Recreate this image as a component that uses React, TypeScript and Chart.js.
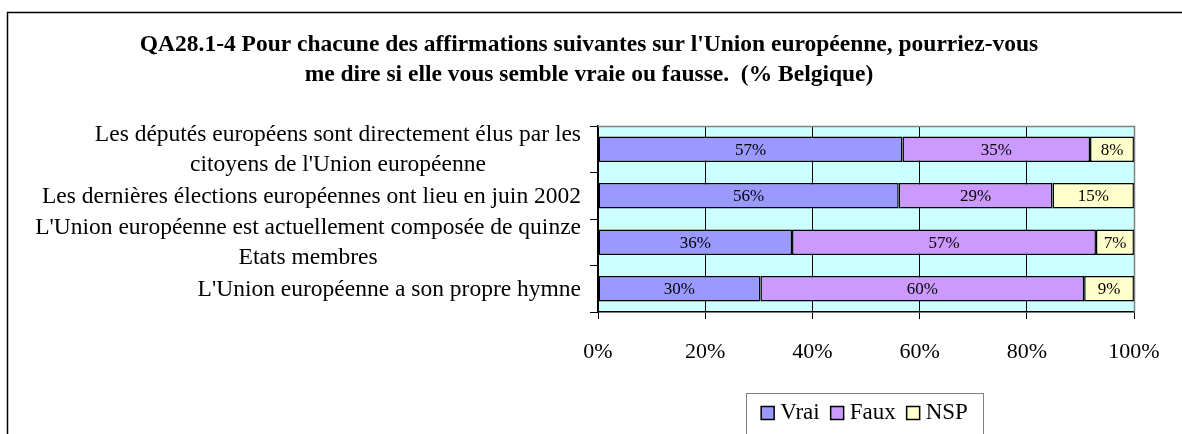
import React, { useEffect, useRef } from "react";
import { Chart, registerables } from "chart.js";

Chart.register(...registerables);

const titleLines = [
  "QA28.1-4 Pour chacune des affirmations suivantes sur l'Union européenne, pourriez-vous",
  "me dire si elle vous semble vraie ou fausse.  (% Belgique)",
];
const categories: string[][] = [
  ["Les députés européens sont directement élus par les", "citoyens de l'Union européenne"],
  ["Les dernières élections européennes ont lieu en juin 2002"],
  ["L'Union européenne est actuellement composée de quinze", "Etats membres"],
  ["L'Union européenne a son propre hymne"],
];
const vrai = [56.8, 56.1, 36.2, 30.3];
const faux = [35.0, 28.7, 56.7, 60.4];
const nsp = [8.2, 15.2, 7.1, 9.3];
const seriesNames = ["Vrai", "Faux", "NSP"];
const seriesColors = ["#9999FF", "#CC99FF", "#FFFFCC"];
const xTicks = [0, 20, 40, 60, 80, 100];

const SERIF = "'Liberation Serif', 'Times New Roman', serif";

const customPlugin = {
  id: "custom",
  beforeDraw(chart: any) {
    const { ctx, chartArea } = chart;
    ctx.save();
    ctx.fillStyle = "#FFFFFF";
    ctx.fillRect(0, 0, chart.width, chart.height);
    ctx.strokeStyle = "#000000";
    ctx.lineWidth = 1.5;
    ctx.strokeRect(7.5, 12.5, 1200, 440);
    ctx.fillStyle = "#CCFFFF";
    ctx.fillRect(chartArea.left, chartArea.top, chartArea.right - chartArea.left, chartArea.bottom - chartArea.top);
    ctx.fillStyle = "#000";
    ctx.font = `bold 23.5px ${SERIF}`;
    ctx.textAlign = "center";
    ctx.textBaseline = "middle";
    titleLines.forEach((t, i) => ctx.fillText(t, 589, 45 + i * 30));
    ctx.restore();
  },
  afterDatasetsDraw(chart: any) {
    const { ctx, chartArea } = chart;
    ctx.save();
    ctx.strokeStyle = "#808080";
    ctx.lineWidth = 1.5;
    ctx.beginPath();
    ctx.moveTo(chartArea.left, chartArea.top + 0.5);
    ctx.lineTo(chartArea.right + 0.5, chartArea.top + 0.5);
    ctx.lineTo(chartArea.right + 0.5, chartArea.bottom);
    ctx.stroke();
    ctx.fillStyle = "#000";
    ctx.font = `17px ${SERIF}`;
    ctx.textAlign = "center";
    ctx.textBaseline = "middle";
    chart.data.datasets.forEach((ds: any, di: number) => {
      const meta = chart.getDatasetMeta(di);
      meta.data.forEach((el: any, i: number) => {
        const v = ds.data[i];
        ctx.fillText(Math.round(v) + "%", (el.x + el.base) / 2, el.y + 1);
      });
    });
    const yScale = chart.scales.y;
    ctx.font = `23.5px ${SERIF}`;
    const right = chartArea.left - 17;
    const lh = 30;
    categories.forEach((lines, i) => {
      const cy = yScale.getPixelForValue(i);
      const w = Math.max(...lines.map((l) => ctx.measureText(l).width));
      const cx = right - w / 2;
      lines.forEach((l, j) => {
        ctx.fillText(l, cx, cy + (j - (lines.length - 1) / 2) * lh + 1);
      });
    });
    ctx.font = `23px ${SERIF}`;
    ctx.textAlign = "left";
    const widths = seriesNames.map((n) => ctx.measureText(n).width);
    const box = 13, gapBox = 6, gapItem = 11;
    const total = widths.reduce((a, w) => a + box + gapBox + w, 0) + gapItem * (seriesNames.length - 1);
    const lx0 = 746, lx1 = 983;
    let x = (lx0 + lx1) / 2 - total / 2;
    const ly = 413;
    ctx.strokeStyle = "#808080";
    ctx.lineWidth = 1;
    ctx.strokeRect(lx0 + 0.5, 393.5, lx1 - lx0, 60);
    seriesNames.forEach((n, i) => {
      ctx.fillStyle = seriesColors[i];
      ctx.fillRect(x, ly - box / 2, box, box);
      ctx.strokeStyle = "#000";
      ctx.lineWidth = 1.5;
      ctx.strokeRect(x, ly - box / 2, box, box);
      ctx.fillStyle = "#000";
      ctx.fillText(n, x + box + gapBox, ly);
      x += box + gapBox + widths[i] + gapItem;
    });
    ctx.restore();
  },
};

export default function App() {
  const ref = useRef<HTMLCanvasElement>(null);
  useEffect(() => {
    const chart = new Chart(ref.current!, {
      type: "bar",
      data: {
        labels: categories.map((c) => c.join(" ")),
        datasets: [vrai, faux, nsp].map((d, i) => ({
          label: seriesNames[i],
          data: d,
          backgroundColor: seriesColors[i],
          borderColor: "#000000",
          borderWidth: 1.5,
          borderSkipped: false,
          barPercentage: 0.55,
          categoryPercentage: 1,
        })),
      },
      options: {
        indexAxis: "y",
        animation: false,
        responsive: false,
        layout: { padding: { left: 0, right: 48, top: 126, bottom: 0 } },
        plugins: { legend: { display: false }, title: { display: false }, tooltip: { enabled: false } },
        scales: {
          x: {
            stacked: true,
            min: 0,
            max: 100,
            afterFit: (s: any) => { s.height = 122; },
            afterBuildTicks: (s: any) => { s.ticks = xTicks.map((v) => ({ value: v })); },
            ticks: {
              callback: (v: any) => v + "%",
              color: "#000",
              font: { family: SERIF, size: 22 },
              padding: 20,
              maxRotation: 0,
            },
            grid: { color: "#000", lineWidth: 1, tickLength: 7, drawOnChartArea: true },
            border: { color: "#000", width: 1.5 },
          },
          y: {
            stacked: true,
            afterFit: (s: any) => { s.width = 598; },
            ticks: { display: false },
            grid: { offset: true, drawOnChartArea: false, color: "#000", tickLength: 8, lineWidth: 1 },
            border: { color: "#000", width: 1.5 },
          },
        },
      },
      plugins: [customPlugin],
    } as any);
    return () => chart.destroy();
  }, []);
  return (
    <div style={{ position: "absolute", left: 0, top: 0, width: 1182, height: 434 }}>
      <canvas ref={ref} width={1182} height={434} style={{ display: "block" }} />
    </div>
  );
}
